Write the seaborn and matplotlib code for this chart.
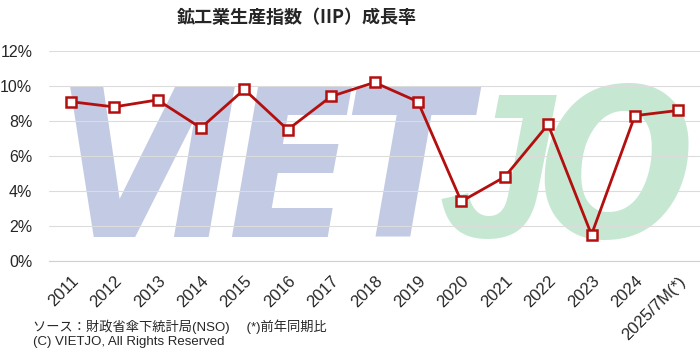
import numpy as np
import pandas as pd
import seaborn as sns
import matplotlib.pyplot as plt
from matplotlib.ticker import FixedLocator, FuncFormatter

years = ['2011', '2012', '2013', '2014', '2015', '2016', '2017', '2018',
         '2019', '2020', '2021', '2022', '2023', '2024', '2025/7M(*)']
growth = [9.1, 8.8, 9.2, 7.6, 9.8, 7.5, 9.4, 10.2,
          9.1, 3.4, 4.8, 7.8, 1.5, 8.3, 8.6]
yticks = [0, 2, 4, 6, 8, 10, 12]

sns.set_style('white')
plt.rcParams['font.family'] = ['Liberation Sans', 'Noto Sans CJK JP', 'DejaVu Sans']

df = pd.DataFrame({'year': years, 'growth': growth})

fig = plt.figure(figsize=(7, 3.56), dpi=100)
ax = fig.add_axes([0.07, 0.267, 0.93, 0.59])
ax.set_facecolor('none')

# watermark letters behind the grid
blue, green = '#c2cbe3', '#c6e8d3'
wm = [('V', 128, blue, 'DejaVu Sans'), ('I', 203, blue, 'DejaVu Sans'),
      ('E', 290, blue, 'DejaVu Sans'), ('T', 405, blue, 'DejaVu Sans'),
      ('J', 496, green, 'Liberation Sans'), ('O', 616, green, 'DejaVu Sans')]
for ch, px, col, fam in wm:
    ax.text(px / 700, 1 - 237 / 356, ch, transform=fig.transFigure,
            fontsize=148, fontweight='bold', style='oblique', fontstretch='condensed',
            color=col, ha='center', va='baseline', zorder=0.2, family=fam)

sns.lineplot(data=df, x='year', y='growth', ax=ax, sort=False,
             color='#b40f0f', linewidth=2, marker='s', markersize=7.5,
             markerfacecolor='white', markeredgecolor='#b40f0f',
             markeredgewidth=1.8, zorder=3)

ax.set_xlim(-0.5, len(years) - 0.5)
ax.set_ylim(0, 12)
ax.set_yticks(yticks)
ax.yaxis.set_major_formatter(FuncFormatter(lambda v, p: f'{v:.0f}%'))
ax.grid(axis='y', color='#dcdcdc', linewidth=0.8, zorder=0.5)
ax.set_axisbelow(True)

for s in ['top', 'right', 'left']:
    ax.spines[s].set_visible(False)
ax.spines['bottom'].set_color('#d0d0d0')
ax.spines['bottom'].set_linewidth(0.8)

ax.set_xticks(range(len(years)))
ax.set_xticklabels(years, rotation=45, ha='right', rotation_mode='anchor')
ax.tick_params(axis='x', length=0, pad=9, labelsize=12)
ax.xaxis.set_minor_locator(FixedLocator(np.arange(-0.5, len(years), 1)))
ax.tick_params(axis='x', which='minor', length=5, color='#d0d0d0', width=0.8)
ax.tick_params(axis='y', length=0, pad=12, labelsize=11.5)
ax.set_xlabel('')
ax.set_ylabel('')

fig.text(0.424, 0.95, '鉱工業生産指数（IIP）成長率', ha='center', va='center',
         fontsize=13, fontweight='bold', family=['Noto Sans CJK JP', 'DejaVu Sans'])
fig.text(0.047, 1 - 327 / 356, 'ソース：財政省傘下統計局(NSO)　 (*)前年同期比',
         ha='left', va='center', fontsize=9.5)
fig.text(0.047, 1 - 342 / 356, '(C) VIETJO, All Rights Reserved',
         ha='left', va='center', fontsize=9.5)

fig.savefig('out.png', dpi=100)
